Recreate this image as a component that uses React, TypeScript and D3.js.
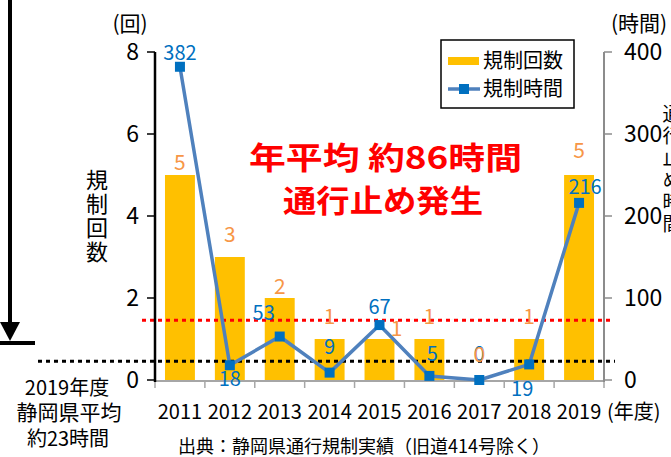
import * as d3 from "d3";

const years = ["2011", "2012", "2013", "2014", "2015", "2016", "2017", "2018", "2019"];
const counts = [5, 3, 2, 1, 1, 1, 0, 1, 5];
const hours = [382, 18, 53, 9, 67, 5, 0, 19, 216];
const leftTicks = [0, 2, 4, 6, 8];
const rightTicks = [0, 100, 200, 300, 400];
// reference lines, on the hours axis
const redLineHours = 73;
const prefAvgHours = 23;
// label nudges [dx, dy] relative to the mark
const countNudge = [[0, -5], [0, -15], [0, -4], [0, -15], [17, -3], [0, -15], [0, -18], [0, -15], [0, -17]];
const hourNudge = [[0, -7], [0, 21], [-16, -17], [0, -19], [0, -11], [3, -15], [0, -19], [-7, 32], [6, -9]];

const FONT = "'Noto Sans CJK JP', 'Noto Sans', sans-serif";
const W = 671;
const H = 457;
const BAR = "#FFC000";
const LINE = "#4F81BD";
const MARK = "#0070C0";
const ORANGE = "#F79646";

export default function App() {
  const x = d3.scaleBand<string>().domain(years).range([155, 604]).paddingInner(0.4).paddingOuter(0.2);
  const yL = d3.scaleLinear().domain([0, 8]).range([380, 52]);
  const yR = d3.scaleLinear().domain([0, 400]).range([380, 52]);
  const cx = (y: string) => (x(y) ?? 0) + x.bandwidth() / 2;
  const step = x.step();
  const x0 = 155;

  const line = d3
    .line<number>()
    .x((_, i) => cx(years[i]))
    .y((d) => yR(d));

  return (
    <svg width={W} height={H} style={{ position: "absolute", left: 0, top: 0, background: "#fff" }} fontFamily={FONT}>
      <rect width={W} height={H} fill="#fff" />

      {/* left arrow */}
      <line x1={10} x2={10} y1={0} y2={324} stroke="#000" strokeWidth={4} />
      <polygon points="0,322 20,322 10,341" fill="#000" />
      <rect x={0} y={341} width={35} height={4} fill="#000" />
      <text x={67} y={395} fontSize={20} textAnchor="middle">2019年度</text>
      <text x={69} y={420} fontSize={21} textAnchor="middle">静岡県平均</text>
      <text x={68} y={446} fontSize={20} textAnchor="middle">約23時間</text>

      {/* bars */}
      {counts.map((c, i) => (
        <rect key={years[i]} x={x(years[i])} y={yL(c)} width={x.bandwidth()} height={yL(0) - yL(c)} fill={BAR} />
      ))}

      {/* reference lines */}
      <line x1={142} x2={610} y1={yR(redLineHours)} y2={yR(redLineHours)} stroke="#FF0000" strokeWidth={3} strokeDasharray="4 4" />
      <line x1={38} x2={615} y1={yR(prefAvgHours)} y2={yR(prefAvgHours)} stroke="#000" strokeWidth={3} strokeDasharray="4 4" />

      {/* axes */}
      <line x1={x0} x2={604} y1={381} y2={381} stroke="#A6A6A6" strokeWidth={2} />
      {d3.range(years.length + 1).map((i) => (
        <line key={i} x1={x0 + i * step} x2={x0 + i * step} y1={381} y2={388} stroke="#A6A6A6" strokeWidth={1.5} />
      ))}
      <line x1={x0} x2={x0} y1={yL(8)} y2={382} stroke="#000" strokeWidth={2.5} />
      {leftTicks.map((t) => (
        <g key={t}>
          <line x1={147} x2={x0} y1={yL(t)} y2={yL(t)} stroke="#000" strokeWidth={1.5} />
          <text x={139} y={yL(t)} dy="0.35em" fontSize={23} textAnchor="end">{t}</text>
        </g>
      ))}
      <line x1={604} x2={604} y1={yR(400)} y2={382} stroke="#8C8C8C" strokeWidth={2} />
      {rightTicks.map((t) => (
        <g key={t}>
          <line x1={604} x2={612} y1={yR(t)} y2={yR(t)} stroke="#8C8C8C" strokeWidth={1.5} />
          <text x={624} y={yR(t)} dy="0.35em" fontSize={23} textAnchor="start">{t}</text>
        </g>
      ))}
      {years.map((y) => (
        <text key={y} x={cx(y)} y={419} fontSize={20} textAnchor="middle">{y}</text>
      ))}
      <text x={607} y={419} fontSize={20}>(年度)</text>
      <text x={130} y={31} fontSize={21} textAnchor="middle">(回)</text>
      <text x={611} y={31} fontSize={21}>(時間)</text>
      <text x={97} y={169} fontSize={22} letterSpacing={2} style={{ writingMode: "vertical-rl" }}>規制回数</text>
      <text x={672} y={104} fontSize={19} letterSpacing={3} style={{ writingMode: "vertical-rl" }}>通行止め時間</text>

      {/* line series */}
      <path d={line(hours) ?? ""} fill="none" stroke={LINE} strokeWidth={3.5} strokeLinejoin="round" />
      {hours.map((h, i) => (
        <rect key={years[i]} x={cx(years[i]) - 5} y={yR(h) - 5} width={10} height={10} fill={MARK} />
      ))}

      {/* data labels */}
      {hours.map((h, i) => (
        <text key={years[i]} x={cx(years[i]) + hourNudge[i][0]} y={yR(h) + hourNudge[i][1]} fontSize={20} fill={MARK} textAnchor="middle">
          {h}
        </text>
      ))}
      {counts.map((c, i) => (
        <text key={years[i]} x={cx(years[i]) + countNudge[i][0]} y={yL(c) + countNudge[i][1]} fontSize={21} fill={ORANGE} textAnchor="middle">
          {c}
        </text>
      ))}

      {/* annotation */}
      <text x={249} y={169} fontSize={31} fontWeight="bold" fill="#FF0000" textLength={273} lengthAdjust="spacingAndGlyphs">
        年平均 約86時間
      </text>
      <text x={283} y={212} fontSize={31} fontWeight="bold" fill="#FF0000" textLength={200} lengthAdjust="spacingAndGlyphs">
        通行止め発生
      </text>

      {/* legend */}
      <rect x={441} y={40} width={133} height={68} fill="#fff" stroke="#000" strokeWidth={1.5} />
      <rect x={448} y={57} width={31} height={8} fill={BAR} />
      <text x={483} y={68} fontSize={20}>規制回数</text>
      <line x1={448} x2={480} y1={89} y2={89} stroke={LINE} strokeWidth={3.5} />
      <rect x={459} y={84} width={10} height={10} fill={MARK} />
      <text x={483} y={96} fontSize={20}>規制時間</text>

      {/* source */}
      <text x={178} y={453} fontSize={18}>出典：静岡県通行規制実績（旧道414号除く）</text>
    </svg>
  );
}
